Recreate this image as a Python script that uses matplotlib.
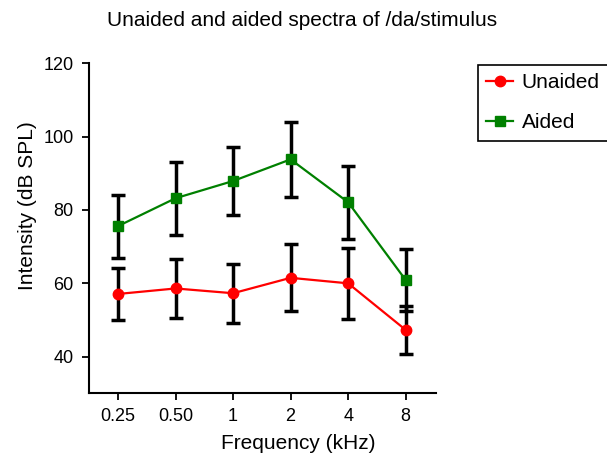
import numpy as np
import matplotlib
matplotlib.use("Agg")
import matplotlib.pyplot as plt

plt.rcParams['font.family'] = ['Liberation Sans', 'DejaVu Sans']

freqs = ['0.25', '0.50', '1', '2', '4', '8']
unaided = [57.1, 58.6, 57.3, 61.5, 60.0, 47.3]
unaided_err = [7.2, 8.1, 8.1, 9.1, 9.7, 6.6]
aided = [75.6, 83.2, 87.9, 93.8, 82.1, 60.9]
aided_err = [8.6, 9.9, 9.2, 10.2, 10.0, 8.4]

x = np.arange(len(freqs))

fig = plt.figure(figsize=(6.07, 4.55), dpi=100)
ax = fig.add_axes([0.1466, 0.1363, 0.5717, 0.7246])

ax.errorbar(x, aided, yerr=aided_err, fmt='none', ecolor='black',
            elinewidth=2.5, capsize=5, capthick=2.5, zorder=2)
ax.errorbar(x, unaided, yerr=unaided_err, fmt='none', ecolor='black',
            elinewidth=2.5, capsize=5, capthick=2.5, zorder=2)
ax.plot(x, unaided, color='#ff0000', marker='o', markersize=7.5,
        linewidth=1.6, label='Unaided', zorder=3)
ax.plot(x, aided, color='#008000', marker='s', markersize=7,
        linewidth=1.6, label='Aided', zorder=3)

ax.set_xlim(-0.504, 5.527)
ax.set_ylim(30.1, 120)
ax.set_yticks([40, 60, 80, 100, 120])
ax.set_xticks(x)
ax.set_xticklabels(freqs)
ax.tick_params(direction='out', length=5, width=1.3, labelsize=13, pad=6)
for s in ['top', 'right']:
    ax.spines[s].set_visible(False)
for s in ['left', 'bottom']:
    ax.spines[s].set_linewidth(1.5)

ax.set_xlabel('Frequency (kHz)', fontsize=15, va='center')
ax.set_ylabel('Intensity (dB SPL)', fontsize=15, va='center')
ax.xaxis.set_label_coords(0.602, -0.152)
ax.yaxis.set_label_coords(-0.176, 0.567)
fig.text(0.4975, 0.956, 'Unaided and aided spectra of /da/stimulus',
         ha='center', va='center', fontsize=15)

leg = fig.legend(loc='upper left', bbox_to_anchor=(0.7875, 0.857), fontsize=15,
                 frameon=True, fancybox=False, edgecolor='black',
                 borderaxespad=0, handlelength=1.3, handletextpad=0.4,
                 borderpad=0.4, labelspacing=1.0, framealpha=1)
leg.get_frame().set_linewidth(1.2)

fig.savefig('out.png', dpi=100)
